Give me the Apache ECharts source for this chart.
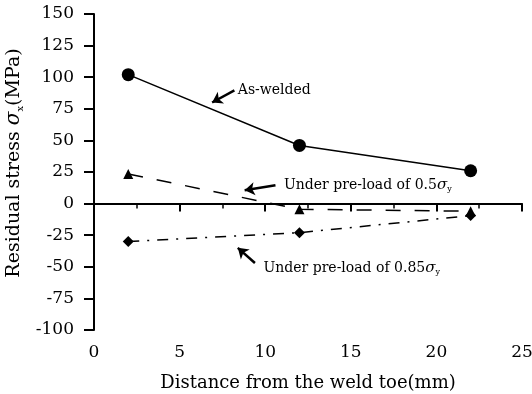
<!DOCTYPE html>
<html><head><meta charset="utf-8">
<script src="https://cdn.jsdelivr.net/npm/echarts@6/dist/echarts.min.js"></script>
<style>html,body{margin:0;padding:0;background:#fff}#c{width:532px;height:394px}</style>
</head><body><div id="c"></div>
<script>
const distances = [2, 12, 22];
const asWelded = [102, 46, 26];
const preload05 = [23.5, -4.5, -6];
const preload085 = [-30, -23, -9.5];
const yTicks = [-100, -75, -50, -25, 0, 25, 50, 75, 100, 125, 150];
const xTicks = [0, 5, 10, 15, 20, 25];

const F = 'DejaVu Serif';
const chart = echarts.init(document.getElementById('c'));
const pair = (xs, ys) => xs.map((x, i) => [x, ys[i]]);
const arrowLine = { color: '#000', width: 2.5, type: 'solid' };
const rich = {
  n: { fontFamily: F, fontSize: 14, color: '#000' },
  s: { fontFamily: F, fontSize: 15, fontStyle: 'italic', color: '#000' },
  b: { fontFamily: F, fontSize: 8, color: '#000', verticalAlign: 'bottom', lineHeight: 14 }
};
function note(coord, text) {
  return { coord, symbol: 'circle', symbolSize: 0,
    label: { show: true, position: 'right', distance: 0, formatter: text, rich } };
}
chart.setOption({
  animation: false,
  grid: { left: 94, right: 10, top: 14, bottom: 64, containLabel: false, outerBoundsMode: 'none' },
  xAxis: {
    type: 'value', min: 0, max: 25, interval: 5,
    name: 'Distance from the weld toe(mm)', nameLocation: 'middle', nameGap: 44,
    nameTextStyle: { fontFamily: F, fontSize: 18, color: '#000' },
    axisLine: { show: true, lineStyle: { color: '#000', width: 2 } },
    axisTick: { show: true, length: 8, lineStyle: { color: '#000', width: 2 } },
    minorTick: { show: true, splitNumber: 2, length: 5, lineStyle: { color: '#000', width: 1.5 } },
    axisLabel: { fontFamily: F, fontSize: 17, color: '#000', margin: 14,
      formatter: v => xTicks.includes(v) ? String(v) : '' },
    splitLine: { show: false }
  },
  yAxis: {
    type: 'value', min: -100, max: 150, interval: 25,
    name: '{n|Residual stress }{s|σ}{b|x}{n|(MPa)}', nameLocation: 'middle', nameGap: 62,
    nameTextStyle: { fontFamily: F, fontSize: 19, color: '#000', padding: [0, 0, 0, 18],
      rich: { n: { fontFamily: F, fontSize: 19, color: '#000', lineHeight: 22 },
              s: { fontFamily: F, fontSize: 20, fontStyle: 'italic', color: '#000', lineHeight: 22 },
              b: { fontFamily: F, fontSize: 10, color: '#000', verticalAlign: 'bottom', lineHeight: 22 } } },
    axisLine: { show: true, onZero: false, lineStyle: { color: '#000', width: 2 } },
    axisTick: { show: true, length: 10, lineStyle: { color: '#000', width: 2 } },
    axisLabel: { fontFamily: F, fontSize: 17, color: '#000', margin: 20,
      formatter: v => yTicks.includes(v) ? String(v) : '' },
    splitLine: { show: false }
  },
  series: [
    { name: 'As-welded', type: 'line', data: pair(distances, asWelded),
      symbol: 'circle', symbolSize: 13, itemStyle: { color: '#000' },
      lineStyle: { color: '#000', width: 1.5 },
      markLine: { silent: true, symbol: ['none', 'arrow'], symbolSize: 10, label: { show: false },
        lineStyle: arrowLine,
        data: [[{ coord: [8.2, 89.5] }, { coord: [6.9, 80] }]] },
      markPoint: { data: [note([8.4, 89.5], '{n|As-welded}')] }
    },
    { name: '0.5', type: 'line', data: pair(distances, preload05),
      symbol: 'triangle', symbolSize: 10, itemStyle: { color: '#000' },
      lineStyle: { color: '#000', width: 1.5, type: [15, 14] },
      markLine: { silent: true, symbol: ['none', 'arrow'], symbolSize: 10, label: { show: false },
        lineStyle: arrowLine,
        data: [[{ coord: [10.6, 14.5] }, { coord: [8.8, 10.5] }]] },
      markPoint: { data: [note([11.1, 14.5], '{n|Under pre-load of 0.5}{s|σ}{b|y}')] }
    },
    { name: '0.85', type: 'line', data: pair(distances, preload085),
      symbol: 'diamond', symbolSize: 11, itemStyle: { color: '#000' },
      lineStyle: { color: '#000', width: 1.5, type: [11, 8, 2, 8] },
      markLine: { silent: true, symbol: ['none', 'arrow'], symbolSize: 10, label: { show: false },
        lineStyle: arrowLine,
        data: [[{ coord: [9.4, -47] }, { coord: [8.4, -35] }]] },
      markPoint: { data: [note([9.9, -51], '{n|Under pre-load of 0.85}{s|σ}{b|y}')] }
    },
    { name: 'zero', type: 'line', data: [], silent: true,
      markLine: { silent: true, symbol: 'none', label: { show: false },
        lineStyle: { color: '#000', width: 1, type: 'solid' },
        data: [[{ coord: [0, 0] }, { coord: [24, 0] }]] } }
  ]
});
</script></body></html>
